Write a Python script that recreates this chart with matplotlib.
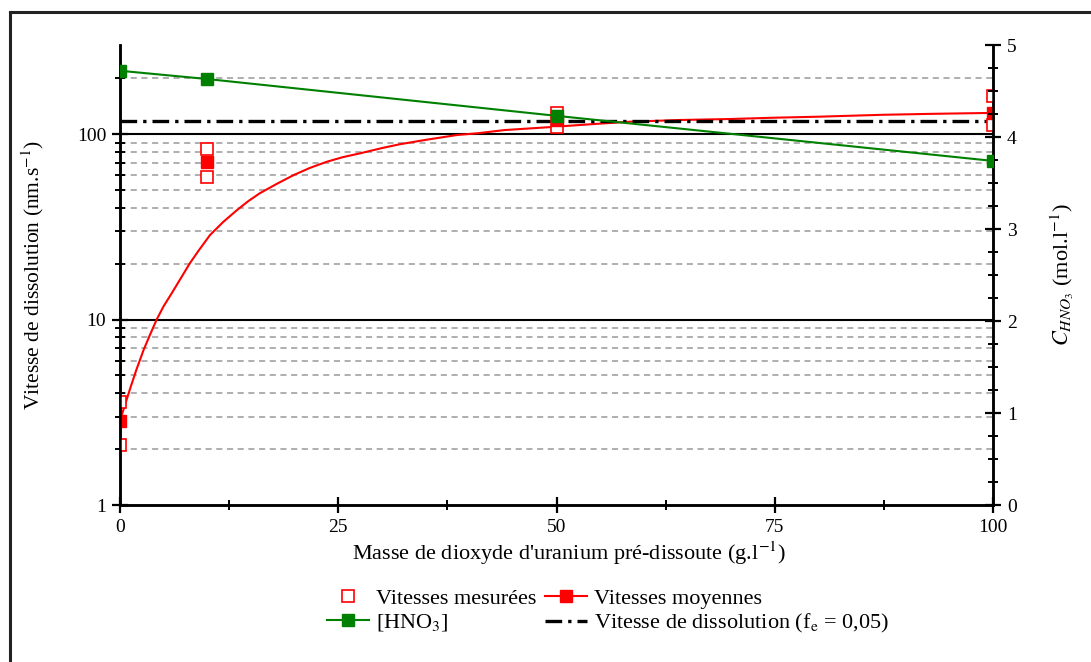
import matplotlib
matplotlib.use("Agg")
import matplotlib.pyplot as plt
from matplotlib.lines import Line2D
from matplotlib.ticker import FixedLocator, NullFormatter, MultipleLocator

plt.rcParams["font.family"] = ["Liberation Serif", "DejaVu Serif"]
plt.rcParams["mathtext.fontset"] = "stix"

# Vitesses mesurées (nm/s)
x_mes = [0, 0, 10, 10, 50, 50, 100, 100]
v_mes = [2.1, 3.6, 83, 58.6, 130, 109, 160, 112]

# Vitesses moyennes
x_moy = [0, 10, 50, 100]
v_moy = [2.85, 71, 119, 130]

# Courbe lissée des vitesses moyennes
x_fit = [0, 0.6, 1.2, 1.9, 2.7, 3.4, 4.2, 5.0, 5.9, 7.0, 8.0, 9.0, 10.3, 11.8,
         13.4, 14.7, 16.0, 18.0, 19.9, 21.8, 23.7, 25.5, 27.5, 30, 32, 35,
         38.6, 41, 44, 46, 49.3, 54, 58.4, 64, 69.9, 75, 80, 87.4, 93, 100]
v_fit = [2.85, 3.5, 4.3, 5.4, 6.85, 8.2, 10, 11.8, 13.8, 16.8, 20.1, 23.5, 28.5, 33.5,
         38.9, 43.5, 47.9, 54, 60.1, 65.8, 70.9, 75, 78.7, 84, 88, 93,
         98.8, 101, 105, 106.5, 109, 113, 116.5, 119, 120.5, 122.5, 124, 127, 128.5, 130]

# [HNO3] (mol/l)
x_hno3 = [0, 10, 50, 100]
c_hno3 = [4.72, 4.63, 4.23, 3.74]

# Vitesse de dissolution (fe = 0,05)
x_ref = [0, 100]
v_ref = [117, 117]

RED = "#ff0000"
GREEN = "#008000"
FS = 16
FS_TICK = 14

fig = plt.figure(figsize=(10.91, 6.62), dpi=100)
ax = fig.add_axes([120 / 1091, 1 - 505 / 662, 873 / 1091, 460 / 662])
ax2 = ax.twinx()

# cadre extérieur
fig.add_artist(Line2D([10 / 1091, 10 / 1091], [0, 1 - 12 / 662], color="#222222", lw=2.2,
                      transform=fig.transFigure))
fig.add_artist(Line2D([10 / 1091, 1], [1 - 12 / 662, 1 - 12 / 662], color="#222222", lw=2.2,
                      transform=fig.transFigure))

# axe gauche (log)
ax.set_yscale("log")
ax.set_ylim(1, 302)
ax.set_xlim(0, 100)

# grille
for v in [2, 3, 4, 5, 6, 7, 8, 9, 20, 30, 40, 50, 60, 70, 80, 90, 200]:
    ax.axhline(v, color="#999999", lw=1.1, ls=(0, (4, 3)), zorder=1)
for v in [10, 100]:
    ax.axhline(v, color="black", lw=1.5, zorder=1)

ax.plot(x_fit, v_fit, color=RED, lw=1.5, zorder=3)
ax.plot(x_ref, v_ref, color="black", lw=2.4, ls=(0, (5, 1.8, 1, 1.8)), zorder=3)
ax.plot(x_mes, v_mes, ls="none", marker="s", ms=8.5, mfc="white", mec=RED, mew=1.2, zorder=4)
ax.plot(x_moy, v_moy, ls="none", marker="s", ms=8.5, mfc=RED, mec=RED, zorder=5)

ax2.plot(x_hno3, c_hno3, color=GREEN, lw=1.5, marker="s", ms=8.5, mfc=GREEN, mec=GREEN, zorder=5)
ax2.set_ylim(0, 5)
ax2.set_xlim(0, 100)

# axes et graduations
for a in (ax, ax2):
    a.spines["top"].set_visible(False)
    for s in a.spines.values():
        s.set_linewidth(1.8)
    a.set_facecolor("none")

ax.yaxis.set_major_locator(FixedLocator([1, 10, 100]))
ax.yaxis.set_major_formatter(plt.FixedFormatter(["1", "10", "100"]))
ax.yaxis.set_minor_locator(FixedLocator([2, 3, 4, 5, 6, 7, 8, 9, 20, 30, 40, 50, 60, 70, 80, 90, 200]))
ax.yaxis.set_minor_formatter(NullFormatter())
ax.xaxis.set_major_locator(MultipleLocator(25))
ax.xaxis.set_minor_locator(MultipleLocator(12.5))
ax2.yaxis.set_major_locator(MultipleLocator(1))
ax2.yaxis.set_minor_locator(MultipleLocator(0.25))

ax.tick_params(which="major", direction="inout", length=12, width=1.6, labelsize=FS_TICK, pad=4)
ax.tick_params(which="minor", direction="inout", length=6.5, width=1.4)
ax2.tick_params(which="major", direction="inout", length=12, width=1.6, labelsize=FS_TICK, pad=4)
ax2.tick_params(which="minor", direction="inout", length=6.5, width=1.4)
ax.tick_params(axis="y", which="both", right=False)

ax.set_xlabel("Masse de dioxyde d'uranium pré-dissoute (g.l$^{-1}$)", fontsize=FS)
ax.xaxis.set_label_coords(0.514, -0.075)
ax.set_ylabel("Vitesse de dissolution (nm.s$^{-1}$)", fontsize=15.5)
ax.yaxis.set_label_coords(-0.085, 0.5)
ax2.set_ylabel("$C_{HNO_3}$ (mol.l$^{-1}$)", fontsize=FS)
ax2.yaxis.set_label_coords(1.063, 0.5)

# légende
h_mes = Line2D([], [], ls="none", marker="s", ms=8.5, mfc="white", mec=RED, mew=1.2)
h_moy = Line2D([], [], color=RED, lw=1.5, marker="s", ms=8.5, mfc=RED, mec=RED)
h_hno3 = Line2D([], [], color=GREEN, lw=1.5, marker="s", ms=8.5, mfc=GREEN, mec=GREEN)
h_ref = Line2D([], [], color="black", lw=2.4, ls=(0, (5, 1.8, 1, 1.8)))
fig.legend([h_mes, h_hno3, h_moy, h_ref],
           ["Vitesses mesurées", "[HNO$_3$]", "Vitesses moyennes",
            "Vitesse de dissolution (f$_\\mathrm{e}$ = 0,05)"],
           ncol=2, loc="center", bbox_to_anchor=(608 / 1091, 1 - 612 / 662), frameon=False,
           fontsize=FS, handlelength=1.9, handletextpad=0.3, columnspacing=0.4,
           labelspacing=0.15, borderpad=0)

fig.savefig("out.png", dpi=100)
